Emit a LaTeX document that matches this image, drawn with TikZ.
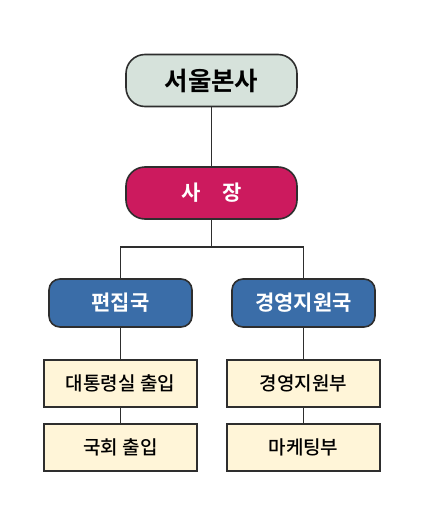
\documentclass[tikz,border=0pt]{standalone}
\usepackage{fontspec}
\newfontfamily\krm{Noto Sans CJK KR Medium}
\newfontfamily\krb{Noto Sans CJK KR Bold}
\definecolor{topfill}{HTML}{D6E2DB}
\definecolor{ceofill}{HTML}{CC1A5E}
\definecolor{deptfill}{HTML}{3A6DA8}
\definecolor{unitfill}{HTML}{FFF5D8}
\definecolor{edge}{HTML}{2E2E2E}
\begin{document}
\begin{tikzpicture}[x=1pt,y=-1pt,
  topbox/.style={draw=edge,line width=1.6pt,fill=topfill,rounded corners=19pt,minimum width=171pt,minimum height=52pt,inner sep=0pt,font=\krb\fontsize{25.5}{28}\selectfont,text=black},
  ceobox/.style={draw=edge,line width=1.6pt,fill=ceofill,rounded corners=19pt,minimum width=171pt,minimum height=52pt,inner sep=0pt,font=\krb\fontsize{21}{24}\selectfont,text=white},
  deptbox/.style={draw=edge,line width=1.6pt,fill=deptfill,rounded corners=11pt,minimum width=143pt,minimum height=48pt,inner sep=0pt,font=\krb\fontsize{21}{24}\selectfont,text=white},
  unitbox/.style={draw=edge,line width=1.4pt,fill=unitfill,minimum width=153pt,minimum height=47pt,inner sep=0pt,font=\krm\fontsize{19}{22}\selectfont,text=black},
  link/.style={draw=edge,line width=1.6pt}]
\useasboundingbox (0,0) rectangle (425,527);
\node[topbox] (seoul) at (211.5,80.5) {서울본사};
\node[ceobox] (ceo) at (211.5,193) {사\hspace{1.0em}장};
\node[deptbox] (edit) at (120.5,303) {편집국};
\node[deptbox] (mgmt) at (303.5,303) {경영지원국};
\node[unitbox] (pres) at (120.5,383.5) {대통령실 출입};
\node[unitbox] (assem) at (120.5,447.5) {국회 출입};
\node[unitbox] (mgsup) at (303.5,383.5) {경영지원부};
\node[unitbox] (mkt) at (303.5,447.5) {마케팅부};
\coordinate (split) at (211.5,247);
\draw[link] (seoul) -- (ceo);
\draw[link] (ceo.south) -- (split);
\draw[link] (edit.north) |- (split) -| (mgmt.north);
\draw[link] (edit) -- (pres);
\draw[link] (pres) -- (assem);
\draw[link] (mgmt) -- (mgsup);
\draw[link] (mgsup) -- (mkt);
\end{tikzpicture}
\end{document}
